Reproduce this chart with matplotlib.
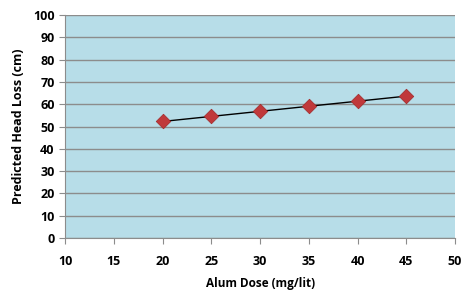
import matplotlib
matplotlib.use("Agg")
import matplotlib.pyplot as plt
import numpy as np

x_dose = [20, 25, 30, 35, 40, 45]
head_loss = [52.3, 54.5, 56.8, 59.0, 61.4, 63.6]
x_ticks = [10, 15, 20, 25, 30, 35, 40, 45, 50]
y_ticks = [0, 10, 20, 30, 40, 50, 60, 70, 80, 90, 100]

plt.rcParams['font.family'] = ['Open Sans', 'DejaVu Sans']
fig = plt.figure(figsize=(4.62, 2.98), dpi=100)
ax = fig.add_axes([0.141, 0.201, 0.844, 0.749])
ax.set_facecolor('#b7dde8')
ax.set_xlim(10, 50)
ax.set_ylim(0, 100)
ax.set_xticks(x_ticks)
ax.set_yticks(y_ticks)
ax.yaxis.grid(True, color='#8c8c8c', linewidth=1.0)
ax.set_axisbelow(True)

coef = np.polyfit(x_dose, head_loss, 1)
xs = np.array([x_dose[0], x_dose[-1]])
ax.plot(xs, np.polyval(coef, xs), color='black', linewidth=1.0, zorder=3)
ax.scatter(x_dose, head_loss, marker='D', s=55, color='#c0393b', edgecolor='#a02828', linewidth=0.5, zorder=4)

for s in ['top', 'right']:
    ax.spines[s].set_visible(False)
for s in ['left', 'bottom']:
    ax.spines[s].set_color('#8c8c8c')
ax.tick_params(axis='both', colors='#8c8c8c', length=4, labelcolor='black', labelsize=9)
for lab in ax.get_xticklabels() + ax.get_yticklabels():
    lab.set_fontweight('bold')
ax.tick_params(axis='x', pad=8)
ax.set_xlabel('Alum Dose (mg/lit)', fontsize=8.5, fontweight='bold', labelpad=7)
ax.set_ylabel('Predicted Head Loss (cm)', fontsize=9, fontweight='bold', labelpad=6)
fig.savefig('out.png', dpi=100)
